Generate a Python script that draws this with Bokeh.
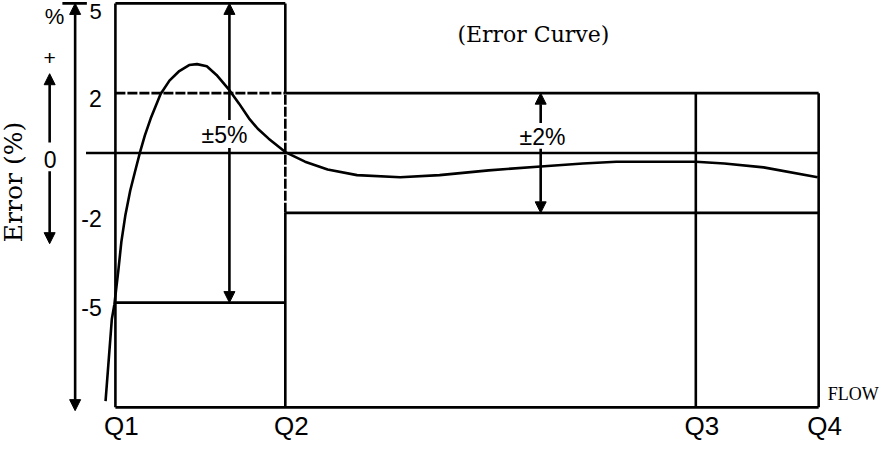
from bokeh.plotting import figure
from bokeh.models import Arrow, NormalHead, Range1d
from bokeh.core.properties import value
from bokeh.embed import file_html
from bokeh.resources import INLINE

# ---------------- data ----------------
q_labels = ["Q1", "Q2", "Q3", "Q4"]
q_flow = [0.0, 1.0, 3.416, 4.139]

err_levels = [5, 2, 0, -2, -5]
err_tick_labels = ["5", "2", "0", "-2", "-5"]

band_labels = ["±5%", "±2%"]
band_limits = [5, 2]

curve_flow = [-0.058, -0.021, -0.006, 0.017, 0.035, 0.058, 0.087, 0.116, 0.145,
              0.173, 0.208, 0.266, 0.318, 0.376, 0.434, 0.480, 0.538, 0.595,
              0.671, 0.728, 0.786, 0.838, 0.902, 1.000, 1.116, 1.249, 1.422,
              1.676, 1.908, 2.197, 2.503, 2.751, 2.948, 3.179, 3.416, 3.584,
              3.815, 4.133]
curve_err = [-8.29, -5.55, -5.06, -3.94, -2.97, -2.10, -1.26, -0.61, 0.03,
             0.58, 1.16, 1.97, 2.42, 2.74, 2.94, 2.97, 2.90, 2.61,
             2.10, 1.65, 1.16, 0.81, 0.48, 0.03, -0.29, -0.55, -0.74,
             -0.81, -0.74, -0.58, -0.45, -0.35, -0.29, -0.29, -0.29, -0.35,
             -0.48, -0.81]

floor_err = -8.5

# ---------------- figure ----------------
Y_TOP = 5.097
p = figure(width=879, height=444, output_backend="svg", toolbar_location=None,
           x_axis_type=None, y_axis_type=None, min_border=0,
           x_range=Range1d(-0.6763, 4.4971), y_range=Range1d(-9.742, Y_TOP))
p.grid.visible = False
p.outline_line_color = None
p.background_fill_color = "white"
p.border_fill_color = "white"

Q1, Q2, Q3, Q4 = q_flow
E5, E2, E0, Em2, Em5 = err_levels
LW = 2.6
BLACK = "black"

axis_x = -0.237
small_x = -0.387
zero_start = -0.173

# solid frame lines
x0 = [Q1, Q1, Q2, Q2, Q2, zero_start, Q2, Q1, Q1, Q3, Q4, -0.312]
y0 = [E5, floor_err, E2, floor_err, E2, E0, Em2, Em5, floor_err, floor_err, floor_err, E5]
x1 = [Q2, Q1, Q2, Q2, Q4, Q4, Q4, Q2, Q4, Q3, Q4, -0.168]
y1 = [E5, E5, E5, Em2, E2, E0, Em2, Em5, floor_err, E2, E2, E5]
p.segment(x0=x0, y0=y0, x1=x1, y1=y1, line_color=BLACK, line_width=LW)

# dashed lines
p.segment(x0=[Q1, Q2], y0=[E2, Em2], x1=[Q2, Q2], y1=[E2, E2],
          line_color=BLACK, line_width=LW, line_dash="10 2")

# error curve
p.line(curve_flow, curve_err, line_color=BLACK, line_width=LW)

def head():
    return NormalHead(size=11, fill_color=BLACK, line_color=BLACK, line_width=1)

# main vertical axis arrow (both ends)
p.add_layout(Arrow(start=head(), end=head(), x_start=axis_x, y_start=-8.61,
                   x_end=axis_x, y_end=E5, line_width=LW, line_color=BLACK))

# small +/- arrow
p.add_layout(Arrow(end=head(), x_start=small_x, y_start=0.35, x_end=small_x, y_end=2.65,
                   line_width=LW, line_color=BLACK))
p.add_layout(Arrow(end=head(), x_start=small_x, y_start=-0.61, x_end=small_x, y_end=-3.03,
                   line_width=LW, line_color=BLACK))

# band arrows
band_x = [0.671, 2.503]
gap_top = [1.10, 1.00]
gap_bot = [0.17, 0.14]
for bx, lim, gt, gb in zip(band_x, band_limits, gap_top, gap_bot):
    p.add_layout(Arrow(end=head(), x_start=bx, y_start=gt, x_end=bx, y_end=lim,
                       line_width=LW, line_color=BLACK))
    p.add_layout(Arrow(end=head(), x_start=bx, y_start=gb, x_end=bx, y_end=-lim,
                       line_width=LW, line_color=BLACK))

SANS = value("Liberation Sans")

# band labels
p.text(x=[0.642, 2.514], y=[0.60, 0.54], text=band_labels, text_font=SANS,
       text_font_size="23px", text_align="center", text_baseline="middle", text_color=BLACK)

# y tick labels
tick_x = []
tick_y = []
for lv in err_levels:
    if lv == 0:
        tick_x.append(small_x + 0.003)
        tick_y.append(lv - 0.23)
    else:
        tick_x.append(-0.080)
        tick_y.append(lv - 0.18)
# top label placed just inside the top edge
p.text(x=[tick_x[0]], y=[Y_TOP - 0.13], text=[err_tick_labels[0]], text_font=SANS,
       text_font_size="22px", text_align="right", text_baseline="top", text_color=BLACK)
p.text(x=[tick_x[1]] + tick_x[3:], y=[tick_y[1]] + tick_y[3:],
       text=[err_tick_labels[1]] + err_tick_labels[3:], text_font=SANS,
       text_font_size="23px", text_align="right", text_baseline="middle", text_color=BLACK)
p.text(x=[tick_x[2]], y=[tick_y[2]], text=[err_tick_labels[2]], text_font=SANS,
       text_font_size="23px", text_align="center", text_baseline="middle", text_color=BLACK)

# % and +
p.text(x=[-0.358], y=[Y_TOP - 0.13], text=["%"], text_font=SANS, text_font_size="22px",
       text_align="center", text_baseline="top", text_color=BLACK)
p.text(x=[small_x], y=[3.16], text=["+"], text_font=SANS, text_font_size="21px",
       text_align="center", text_baseline="middle", text_color=BLACK)

# Q labels
p.text(x=q_flow, y=[-9.12] * len(q_flow), text=q_labels, text_font=SANS,
       text_font_size="26px", text_align="center", text_baseline="middle",
       x_offset=6, text_color=BLACK)

# axis title (vertical)
p.text(x=[-0.598], y=[-0.97], text=["Error (%)"], text_font=value("DejaVu Serif"),
       text_font_size="25px", angle=1.5707963, text_align="center",
       text_baseline="middle", text_color=BLACK)

# chart title
p.text(x=[2.46], y=[3.97], text=["(Error Curve)"], text_font=value("DejaVu Serif"),
       text_font_size="22px", text_align="center", text_baseline="middle", text_color=BLACK)

# FLOW
p.text(x=[4.492], y=[-8.05], text=["FLOW"], text_font=value("Liberation Serif"),
       text_font_size="18px", text_align="right", text_baseline="middle", text_color=BLACK)

open("out.html", "w").write(file_html(p, INLINE))
